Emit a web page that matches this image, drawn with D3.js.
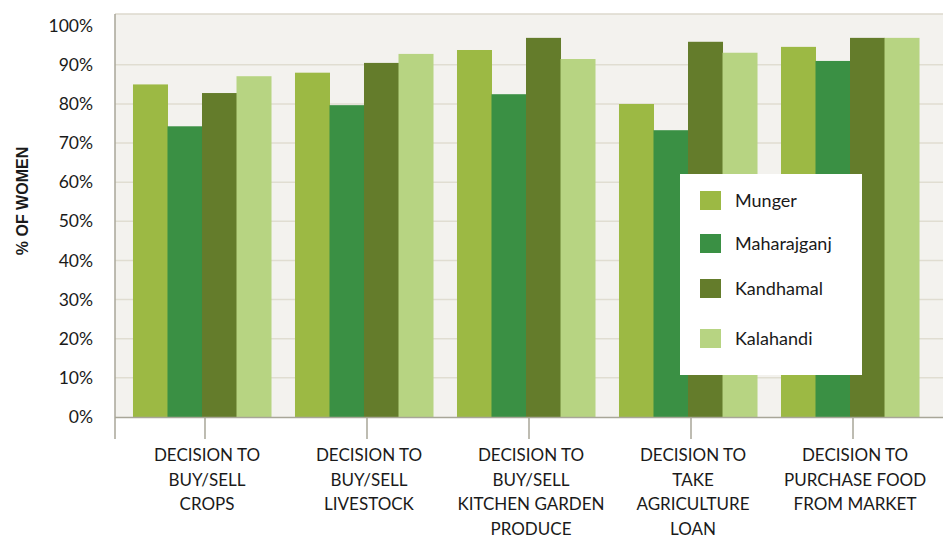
<!DOCTYPE html>
<html>
<head>
<meta charset="utf-8">
<script src="https://cdn.jsdelivr.net/npm/d3@7"></script>
<style>
  body { margin: 0; background: #fff; }
  svg { display: block; }
  text { font-family: Lato, "Noto Sans", sans-serif; fill: #1a1a1a; }
</style>
</head>
<body>
<svg width="943" height="538"></svg>
<script>
  var categories = [
    ["DECISION TO", "BUY/SELL", "CROPS"],
    ["DECISION TO", "BUY/SELL", "LIVESTOCK"],
    ["DECISION TO", "BUY/SELL", "KITCHEN GARDEN", "PRODUCE"],
    ["DECISION TO", "TAKE", "AGRICULTURE", "LOAN"],
    ["DECISION TO", "PURCHASE FOOD", "FROM MARKET"]
  ];
  var districts = ["Munger", "Maharajganj", "Kandhamal", "Kalahandi"];
  var munger = [85, 88, 93.8, 80, 94.6];
  var maharajganj = [74.3, 79.7, 82.5, 73.3, 91];
  var kandhamal = [82.8, 90.5, 96.9, 95.9, 96.9];
  var kalahandi = [87.1, 92.8, 91.5, 93.1, 96.9];
  var yTicks = [0, 10, 20, 30, 40, 50, 60, 70, 80, 90, 100];

  var series = [munger, maharajganj, kandhamal, kalahandi];
  var colors = ["#9cb944", "#3a9044", "#647c2b", "#b7d482"];

  var svg = d3.select("svg"),
    plotLeft = 115,
    plotRight = 943,
    plotTop = 14,
    plotBottom = 417;

  var x = d3
    .scaleBand()
    .domain(d3.range(categories.length))
    .range([plotLeft, 937])
    .paddingInner(0.148)
    .paddingOuter(0.111);

  var x1 = d3
    .scaleBand()
    .domain(d3.range(districts.length))
    .range([0, x.bandwidth()]);

  var y = d3.scaleLinear().domain([0, 103]).range([plotBottom, plotTop]);

  // plot background
  svg
    .append("rect")
    .attr("x", plotLeft)
    .attr("y", plotTop)
    .attr("width", plotRight - plotLeft)
    .attr("height", plotBottom - plotTop)
    .attr("fill", "#f3f2ee");

  // gridlines
  svg
    .append("g")
    .selectAll("line")
    .data(yTicks.filter(function (d) {
      return d > 0 && d < 100;
    }))
    .enter()
    .append("line")
    .attr("x1", plotLeft)
    .attr("x2", plotRight)
    .attr("y1", function (d) {
      return y(d);
    })
    .attr("y2", function (d) {
      return y(d);
    })
    .style("stroke", "#e0ddd1")
    .style("stroke-width", 1.5);

  svg
    .append("line")
    .attr("x1", plotLeft)
    .attr("x2", plotRight)
    .attr("y1", plotTop)
    .attr("y2", plotTop)
    .style("stroke", "#dcd8cc")
    .style("stroke-width", 1.5);

  // bars
  var groups = svg
    .append("g")
    .selectAll("g")
    .data(series)
    .enter()
    .append("g")
    .attr("fill", function (d, i) {
      return colors[i];
    });

  groups.each(function (vals, si) {
    d3.select(this)
      .selectAll("rect")
      .data(vals)
      .enter()
      .append("rect")
      .attr("x", function (d, ci) {
        return x(ci) + x1(si);
      })
      .attr("width", x1.bandwidth() + 0.5)
      .attr("y", function (d) {
        return y(d);
      })
      .attr("height", function (d) {
        return plotBottom - y(d);
      });
  });

  // axes lines
  svg
    .append("line")
    .attr("x1", plotLeft)
    .attr("x2", plotRight)
    .attr("y1", plotBottom + 0.5)
    .attr("y2", plotBottom + 0.5)
    .style("stroke", "#a8a698")
    .style("stroke-width", 1.5);

  svg
    .append("line")
    .attr("x1", plotLeft)
    .attr("x2", plotLeft)
    .attr("y1", plotTop)
    .attr("y2", 439)
    .style("stroke", "#a8a698")
    .style("stroke-width", 1.5);

  svg
    .append("g")
    .selectAll("line")
    .data(categories)
    .enter()
    .append("line")
    .attr("x1", function (d, i) {
      return x(i) + x.bandwidth() / 2 + 3;
    })
    .attr("x2", function (d, i) {
      return x(i) + x.bandwidth() / 2 + 3;
    })
    .attr("y1", plotBottom)
    .attr("y2", 439)
    .style("stroke", "#a8a698")
    .style("stroke-width", 1.5);

  // y tick labels
  svg
    .append("g")
    .selectAll("text")
    .data(yTicks)
    .enter()
    .append("text")
    .attr("x", 93)
    .attr("y", function (d) {
      return y(d);
    })
    .attr("dy", "0.35em")
    .attr("text-anchor", "end")
    .style("font-size", "17.5px")
    .text(function (d) {
      return d + "%";
    });

  // category labels
  var catLabels = svg
    .append("g")
    .selectAll("text")
    .data(categories)
    .enter()
    .append("text")
    .attr("text-anchor", "middle")
    .style("font-size", "17px")
    .attr("transform", function (d, i) {
      return "translate(" + (x(i) + x.bandwidth() / 2 + 5) + ",461)";
    });

  catLabels
    .selectAll("tspan")
    .data(function (d) {
      return d;
    })
    .enter()
    .append("tspan")
    .attr("x", 0)
    .attr("y", function (d, i) {
      return i * 24.7;
    })
    .text(function (d) {
      return d;
    });

  // y axis title
  svg
    .append("text")
    .attr("transform", "translate(28,201) rotate(-90)")
    .attr("text-anchor", "middle")
    .style("font-family", "'Liberation Sans', Arial, sans-serif")
    .style("font-weight", "bold")
    .style("font-size", "16px")
    .text("% OF WOMEN");

  // legend
  var legend = svg.append("g").attr("transform", "translate(680,174)");
  legend
    .append("rect")
    .attr("width", 182)
    .attr("height", 201)
    .attr("fill", "#fff");

  var legendY = [17, 60, 105, 155];
  var items = legend
    .selectAll("g")
    .data(districts)
    .enter()
    .append("g")
    .attr("transform", function (d, i) {
      return "translate(20," + legendY[i] + ")";
    });

  items
    .append("rect")
    .attr("width", 21)
    .attr("height", 19)
    .attr("fill", function (d, i) {
      return colors[i];
    });

  items
    .append("text")
    .attr("x", 35)
    .attr("y", 10)
    .attr("dy", "0.35em")
    .style("font-size", "18px")
    .text(function (d) {
      return d;
    });
</script>
</body>
</html>
